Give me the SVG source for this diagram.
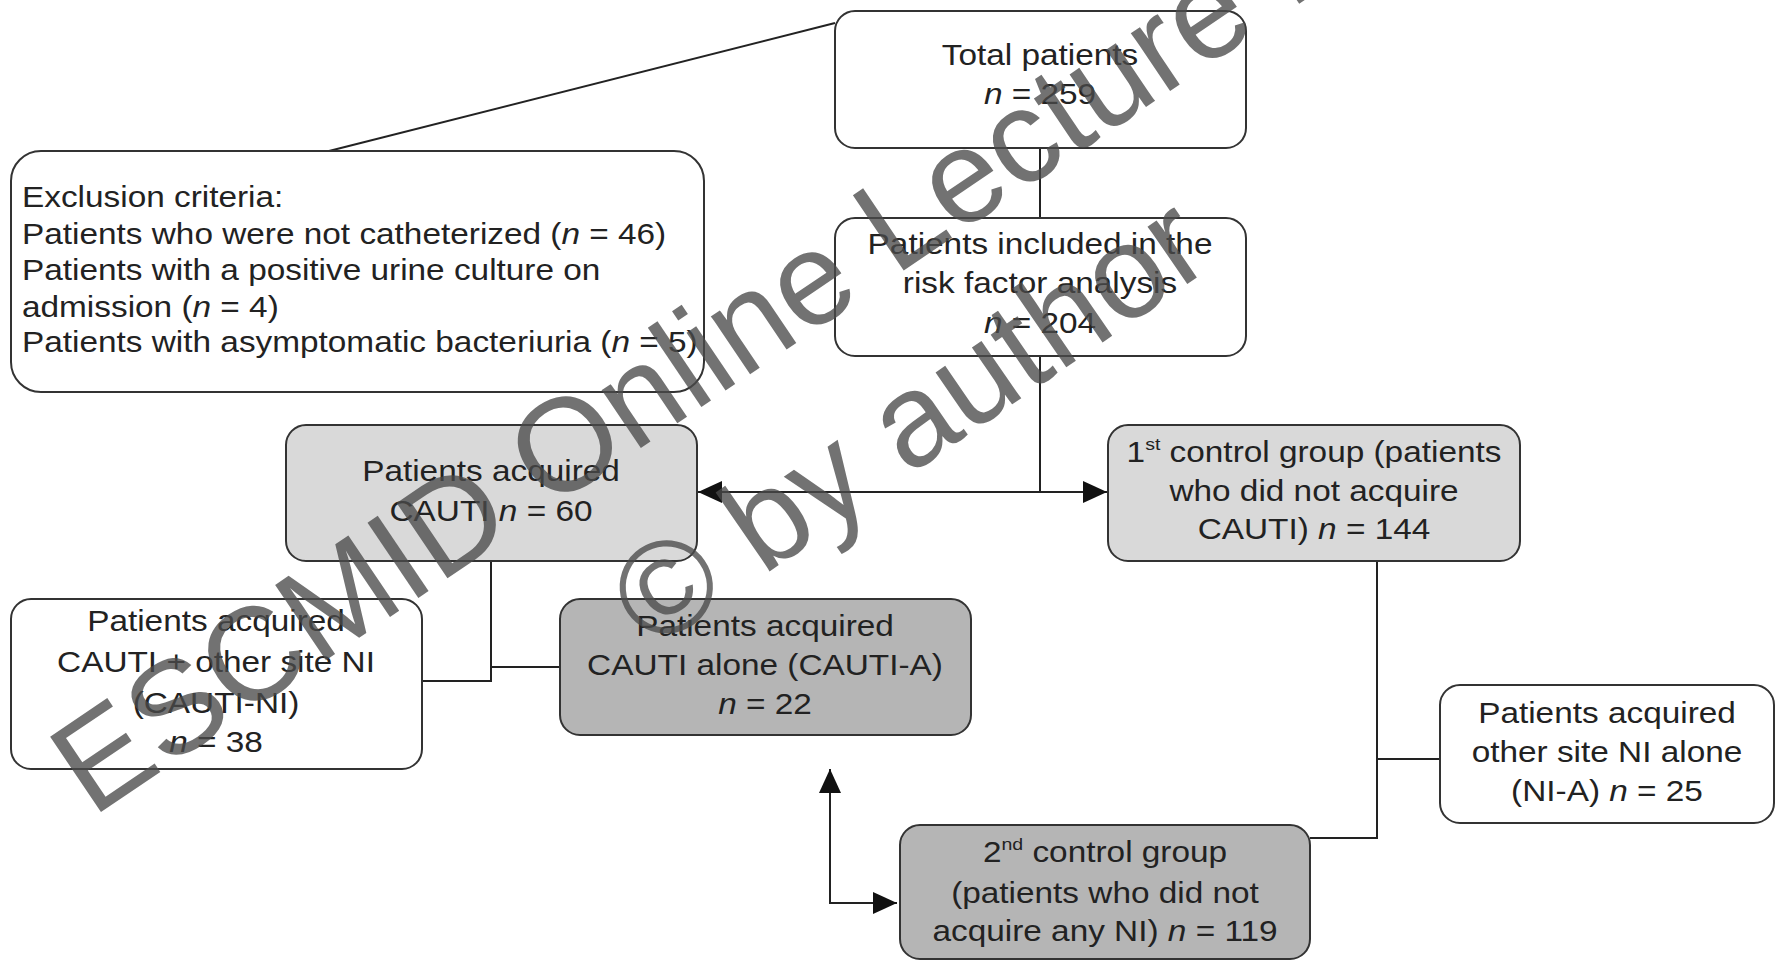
<svg xmlns="http://www.w3.org/2000/svg" width="1781" height="962" viewBox="0 0 1781 962">
<style>
.box{stroke:#333;stroke-width:2}
.w{fill:#fff}
.g1{fill:#d9d9d9}
.g2{fill:#b5b5b5}
.t{font-family:"Liberation Sans",Arial,sans-serif;font-size:29px;fill:#222}
.c{text-anchor:middle}
.ln{stroke:#222;stroke-width:2;fill:none}
.wm{font-family:"Liberation Sans",Arial,sans-serif;font-size:132px;fill:#4a4a4a;fill-opacity:0.78}
</style>
<defs>
<marker id="ah" viewBox="0 0 24 22" refX="24" refY="11" markerWidth="24" markerHeight="22" markerUnits="userSpaceOnUse" orient="auto-start-reverse">
<path d="M0,0 L24,11 L0,22 Z" fill="#111"/>
</marker>
</defs>
<rect width="1781" height="962" fill="#fff"/>
<g id="connectors">
<line class="ln" x1="329" y1="151" x2="835" y2="23"/>
<line class="ln" x1="1040" y1="148" x2="1040" y2="218"/>
<line class="ln" x1="1040" y1="356" x2="1040" y2="492"/>
<line class="ln" x1="698" y1="492" x2="1107" y2="492" marker-start="url(#ah)" marker-end="url(#ah)"/>
<path class="ln" d="M491,561 V681 H422 M491,667 H560"/>
<path class="ln" d="M830,769 V903 H897" marker-start="url(#ah)" marker-end="url(#ah)"/>
<path class="ln" d="M1377,561 V838 H1310 M1377,759 H1440"/>
</g>
<g id="total">
<rect class="box w" x="835" y="11" width="411" height="137" rx="20"/>
<text class="t c" transform="translate(1040,65) scale(1.15,1)">Total patients</text>
<text class="t c" transform="translate(1040,104) scale(1.15,1)"><tspan font-style="italic">n</tspan> = 259</text>
</g>
<g id="included">
<rect class="box w" x="835" y="218" width="411" height="138" rx="20"/>
<text class="t c" transform="translate(1040,254) scale(1.15,1)">Patients included in the</text>
<text class="t c" transform="translate(1040,293) scale(1.15,1)">risk factor analysis</text>
<text class="t c" transform="translate(1040,333) scale(1.15,1)"><tspan font-style="italic">n</tspan> = 204</text>
</g>
<g id="exclusion">
<rect class="box w" x="11" y="151" width="693" height="241" rx="30"/>
<text class="t" transform="translate(22,207) scale(1.15,1)">Exclusion criteria:</text>
<text class="t" transform="translate(22,244) scale(1.15,1)">Patients who were not catheterized (<tspan font-style="italic">n</tspan> = 46)</text>
<text class="t" transform="translate(22,280) scale(1.15,1)">Patients with a positive urine culture on</text>
<text class="t" transform="translate(22,317) scale(1.15,1)">admission (<tspan font-style="italic">n</tspan> = 4)</text>
<text class="t" transform="translate(22,352) scale(1.15,1)">Patients with asymptomatic bacteriuria (<tspan font-style="italic">n</tspan> = 5)</text>
</g>
<g id="cauti">
<rect class="box g1" x="286" y="425" width="411" height="136" rx="20"/>
<text class="t c" transform="translate(491,481) scale(1.15,1)">Patients acquired</text>
<text class="t c" transform="translate(491,521) scale(1.15,1)">CAUTI <tspan font-style="italic">n</tspan> = 60</text>
</g>
<g id="control1">
<rect class="box g1" x="1108" y="425" width="412" height="136" rx="20"/>
<text class="t c" transform="translate(1314,462) scale(1.15,1)">1<tspan font-size="17" dy="-12">st</tspan><tspan dy="12"> control group (patients</tspan></text>
<text class="t c" transform="translate(1314,501) scale(1.15,1)">who did not acquire</text>
<text class="t c" transform="translate(1314,539) scale(1.15,1)">CAUTI) <tspan font-style="italic">n</tspan> = 144</text>
</g>
<g id="cauti-ni">
<rect class="box w" x="11" y="599" width="411" height="170" rx="20"/>
<text class="t c" transform="translate(216,631) scale(1.15,1)">Patients acquired</text>
<text class="t c" transform="translate(216,672) scale(1.15,1)">CAUTI + other site NI</text>
<text class="t c" transform="translate(216,713) scale(1.15,1)">(CAUTI-NI)</text>
<text class="t c" transform="translate(216,752) scale(1.15,1)"><tspan font-style="italic">n</tspan> = 38</text>
</g>
<g id="cauti-a">
<rect class="box g2" x="560" y="599" width="411" height="136" rx="20"/>
<text class="t c" transform="translate(765,636) scale(1.15,1)">Patients acquired</text>
<text class="t c" transform="translate(765,675) scale(1.15,1)">CAUTI alone (CAUTI-A)</text>
<text class="t c" transform="translate(765,714) scale(1.15,1)"><tspan font-style="italic">n</tspan> = 22</text>
</g>
<g id="control2">
<rect class="box g2" x="900" y="825" width="410" height="134" rx="20"/>
<text class="t c" transform="translate(1105,862) scale(1.15,1)">2<tspan font-size="17" dy="-12">nd</tspan><tspan dy="12"> control group</tspan></text>
<text class="t c" transform="translate(1105,903) scale(1.15,1)">(patients who did not</text>
<text class="t c" transform="translate(1105,941) scale(1.15,1)">acquire any NI) <tspan font-style="italic">n</tspan> = 119</text>
</g>
<g id="ni-a">
<rect class="box w" x="1440" y="685" width="334" height="138" rx="20"/>
<text class="t c" transform="translate(1607,723) scale(1.15,1)">Patients acquired</text>
<text class="t c" transform="translate(1607,762) scale(1.15,1)">other site NI alone</text>
<text class="t c" transform="translate(1607,801) scale(1.15,1)">(NI-A) <tspan font-style="italic">n</tspan> = 25</text>
</g>
<g id="watermark">
<text class="wm" transform="translate(92,818) rotate(-34)">ESCMID Online Lecture Library</text>
<text class="wm" transform="translate(652,652) rotate(-34.5)">© by author</text>
</g>
</svg>
